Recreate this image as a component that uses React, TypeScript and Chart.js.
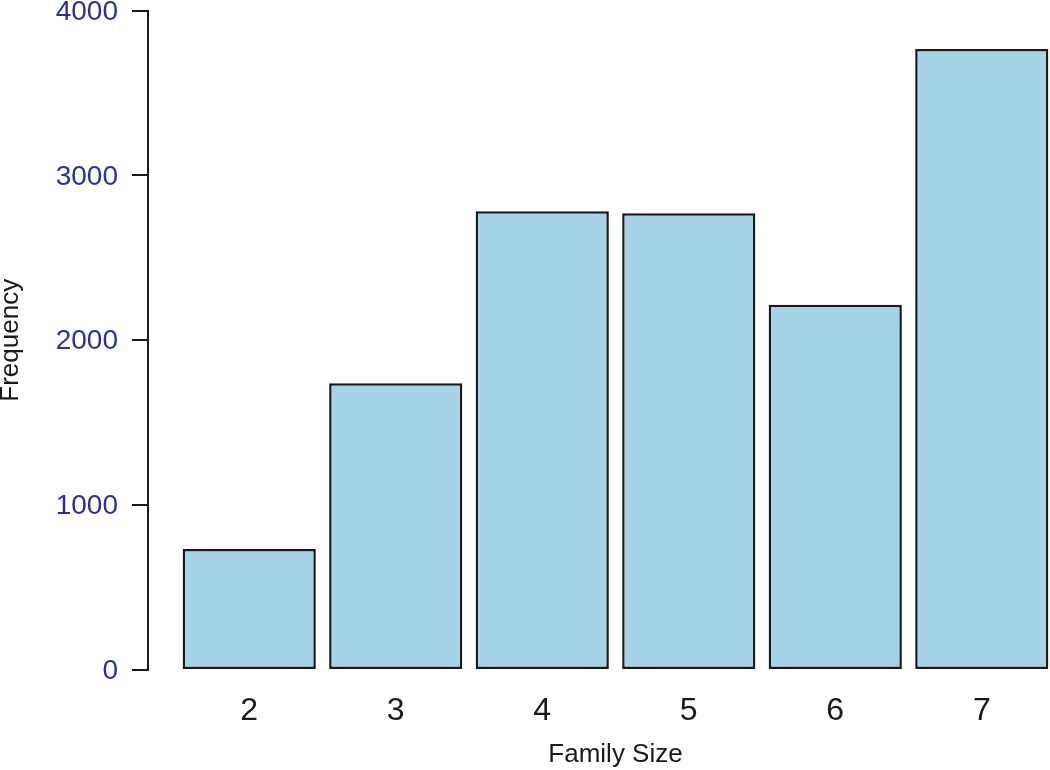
import React, { useEffect, useRef } from "react";
import { Chart, registerables } from "chart.js";

Chart.register(...registerables);

const categories = ["2", "3", "4", "5", "6", "7"];
const frequencies = [734, 1739, 2782, 2770, 2215, 3766];
const yTicks = [0, 1000, 2000, 3000, 4000];

const FONT = "'Liberation Sans', Arial, Helvetica, sans-serif";

export default function App() {
  const ref = useRef<HTMLCanvasElement | null>(null);

  useEffect(() => {
    if (!ref.current) return;
    const n = categories.length;
    // R barplot geometry: width 1, space 0.1, xlim extended by 4%
    const unit = 1.1;
    const lo = 0.1, hi = n * unit;
    const ext = (hi - lo) * 0.04;
    const xMin = (lo - ext - 0.6) / unit;
    const xMax = (hi + ext - 0.6) / unit;

    const chart = new Chart(ref.current, {
      type: "bar",
      data: {
        datasets: [
          {
            data: frequencies.map((v, i) => ({ x: i, y: v })),
            backgroundColor: "#a7d3e8",
            borderColor: "#1a1a1a",
            borderWidth: 2.5,
            borderSkipped: false,
            categoryPercentage: 1,
            barPercentage: 1 / unit,
          },
        ],
      },
      options: {
        animation: false,
        responsive: false,
        devicePixelRatio: 1,
        layout: { padding: { top: 10.5, left: 0, right: 0, bottom: 0 } },
        plugins: { legend: { display: false }, tooltip: { enabled: false } },
        scales: {
          x: {
            type: "linear",
            min: xMin,
            max: xMax,
            offset: false,
            grid: { display: false, offset: false },
            border: { display: false },
            afterBuildTicks: (axis: any) => {
              axis.ticks = categories.map((_, i) => ({ value: i }));
            },
            afterFit: (axis: any) => {
              axis.height = 100;
              axis.paddingLeft = 0;
              axis.paddingRight = 0;
            },
            ticks: {
              autoSkip: false,
              maxRotation: 0,
              padding: 14,
              color: "#1a1a1a",
              font: { family: FONT, size: 32 },
              callback: (v: any) => categories[Math.round(Number(v))] ?? "",
            },
            title: {
              display: true,
              text: "Family Size",
              color: "#1a1a1a",
              font: { family: FONT, size: 26 },
              padding: { top: 0, bottom: 0 },
            },
          },
          y: {
            type: "linear",
            min: 0,
            max: 4000,
            afterBuildTicks: (axis: any) => {
              axis.ticks = yTicks.map((v) => ({ value: v }));
            },
            afterFit: (axis: any) => {
              axis.width = 148;
              axis.paddingTop = 0;
              axis.paddingBottom = 0;
            },
            grid: {
              display: true,
              drawOnChartArea: false,
              drawTicks: true,
              tickLength: 16,
              color: "#1a1a1a",
              lineWidth: 2,
            },
            border: { display: true, color: "#1a1a1a", width: 2 },
            ticks: {
              padding: 14,
              labelOffset: 1.5,
              color: "#2e3192",
              font: { family: FONT, size: 28 },
              callback: (v: any) => String(v),
            },
            title: {
              display: true,
              text: "Frequency",
              color: "#1a1a1a",
              font: { family: FONT, size: 26 },
              padding: { top: -4.6, bottom: 0 },
            },
          },
        },
      },
    });
    return () => chart.destroy();
  }, []);

  return (
    <div
      style={{
        position: "absolute",
        left: 0,
        top: 0,
        width: 1050,
        height: 770,
        overflow: "hidden",
        background: "#fff",
      }}
    >
      <canvas ref={ref} width={1083} height={770} style={{ display: "block" }} />
    </div>
  );
}
